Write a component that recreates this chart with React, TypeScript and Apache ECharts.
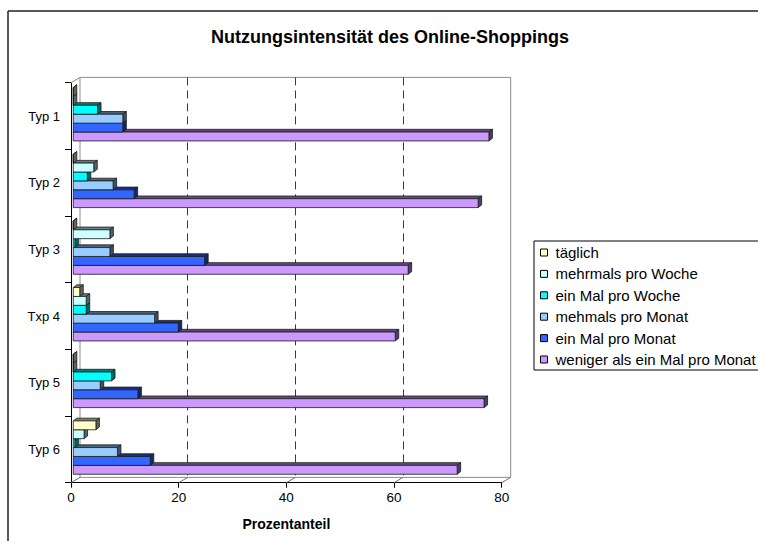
import React, { useEffect, useRef } from "react";
import * as echarts from "echarts";

// ---------- data ----------
const title = "Nutzungsintensität des Online-Shoppings";
const axisName = "Prozentanteil";
const categories = ["Typ 1", "Typ 2", "Typ 3", "Txp 4", "Typ 5", "Typ 6"];
const seriesNames = [
  "täglich",
  "mehrmals pro Woche",
  "ein Mal pro Woche",
  "mehmals pro Monat",
  "ein Mal pro Monat",
  "weniger als ein Mal pro Monat",
];
const taeglich = [0, 0, 0, 1.2, 0, 4.2];
const mehrmalsProWoche = [0, 3.8, 6.8, 2.4, 0, 2.0];
const einMalProWoche = [4.5, 2.6, 0.3, 2.4, 7.1, 0.3];
const mehmalsProMonat = [9.2, 7.4, 6.8, 15.1, 5.0, 8.2];
const einMalProMonat = [9.2, 11.3, 24.4, 19.5, 12.0, 14.3];
const wenigerAlsEinMal = [77.2, 75.2, 62.2, 59.8, 76.3, 71.3];
const seriesValues = [
  taeglich,
  mehrmalsProWoche,
  einMalProWoche,
  mehmalsProMonat,
  einMalProMonat,
  wenigerAlsEinMal,
];
const xTicks = [0, 20, 40, 60, 80];

// ---------- styles ----------
const colors = ["#FFFFCC", "#CCFFFF", "#00FFFF", "#99CCFF", "#3366FF", "#CC99FF"];
const FONT = "'Liberation Sans', Arial, Helvetica, sans-serif";
const FRONT = { left: 71, top: 82.7, width: 430.7, height: 400 };
const DEPTH = { dx: 9, dy: -5.3 };
const BAR = { ox: 2.3, oy: -1.8, ratio: 0.1335, dx: 3.5, dy: -2.7 };
const W = 758;
const H = 541;

function shade(hex: string, f: number): string {
  const n = parseInt(hex.slice(1), 16);
  const r = Math.round(((n >> 16) & 255) * f);
  const g = Math.round(((n >> 8) & 255) * f);
  const b = Math.round((n & 255) * f);
  return `rgb(${r},${g},${b})`;
}

function makeRender(seriesIndex: number, color: string) {
  return (params: any, api: any) => {
    const val = api.value(0);
    const cat = api.value(1);
    const p0 = api.coord([0, cat]);
    const p1 = api.coord([val, cat]);
    const band = api.size([0, 1])[1];
    const h = band * BAR.ratio;
    const n = seriesNames.length;
    const top = p0[1] + BAR.oy - (n / 2) * h + seriesIndex * h;
    const xa = p0[0] + BAR.ox;
    const xb = p1[0] + BAR.ox;
    const { dx, dy } = BAR;
    const stroke = "#1a1a1a";
    return {
      type: "group",
      children: [
        {
          type: "polygon",
          shape: { points: [[xa, top], [xa + dx, top + dy], [xb + dx, top + dy], [xb, top]] },
          style: { fill: shade(color, 0.5), stroke, lineWidth: 0.8 },
        },
        {
          type: "polygon",
          shape: { points: [[xb, top], [xb + dx, top + dy], [xb + dx, top + h + dy], [xb, top + h]] },
          style: { fill: shade(color, 0.4), stroke, lineWidth: 0.8 },
        },
        {
          type: "rect",
          shape: { x: xa, y: top, width: Math.max(0, xb - xa), height: h },
          style: { fill: color, stroke, lineWidth: 0.8 },
        },
      ],
    };
  };
}

export default function App() {
  const ref = useRef<HTMLDivElement>(null);

  useEffect(() => {
    if (!ref.current) return;
    const chart = echarts.init(ref.current, undefined, { renderer: "svg" });
    const frontRight = W - FRONT.left - FRONT.width;
    const frontBottom = H - FRONT.top - FRONT.height;

    const option: any = {
      animation: false,
      backgroundColor: "#ffffff",
      title: {
        text: title,
        left: 390,
        top: 28,
        textAlign: "center",
        padding: 0,
        textStyle: { fontFamily: FONT, fontSize: 18, fontWeight: "bold", color: "#000" },
      },
      legend: {
        orient: "vertical",
        left: 534,
        top: 241,
        padding: [4, 12, 3, 6],
        itemWidth: 7,
        itemHeight: 7,
        itemGap: 6.4,
        icon: "rect",
        borderColor: "#000",
        borderWidth: 1,
        backgroundColor: "#fff",
        itemStyle: { borderColor: "#000", borderWidth: 1 },
        textStyle: {
          fontFamily: FONT,
          fontSize: 15,
          lineHeight: 14,
          color: "#000",
          padding: [0, 0, 0, 3],
        },
        data: seriesNames,
      },
      grid: [
        {
          left: FRONT.left,
          right: frontRight,
          top: FRONT.top,
          bottom: frontBottom,
          show: false,
        },
        {
          left: FRONT.left + DEPTH.dx,
          right: frontRight - DEPTH.dx,
          top: FRONT.top + DEPTH.dy,
          bottom: frontBottom - DEPTH.dy,
          show: true,
          borderColor: "#8c8c8c",
          borderWidth: 1,
          backgroundColor: "transparent",
        },
      ],
      xAxis: [
        {
          type: "value",
          gridIndex: 0,
          min: 0,
          max: 80,
          interval: 20,
          name: axisName,
          nameLocation: "middle",
          nameGap: 34,
          nameTextStyle: { fontFamily: FONT, fontSize: 14, fontWeight: "bold", color: "#000" },
          axisLine: { show: true, lineStyle: { color: "#000", width: 1 } },
          axisTick: { show: true, length: 5, lineStyle: { color: "#000" } },
          axisLabel: { fontFamily: FONT, fontSize: 13.5, color: "#000", margin: 8 },
          splitLine: { show: false },
        },
        {
          type: "value",
          gridIndex: 1,
          min: 0,
          max: 80,
          interval: 20,
          axisLine: { show: false },
          axisTick: { show: false },
          axisLabel: { show: false },
          splitLine: {
            show: true,
            showMinLine: false,
            showMaxLine: false,
            lineStyle: { color: "#3a3a3a", width: 1, type: [8, 5] },
          },
        },
      ],
      yAxis: [
        {
          type: "category",
          gridIndex: 0,
          data: categories,
          inverse: true,
          axisLine: { show: true, lineStyle: { color: "#000", width: 1 } },
          axisTick: { show: true, length: 6, lineStyle: { color: "#000" } },
          axisLabel: { fontFamily: FONT, fontSize: 13, color: "#000", margin: 11 },
          splitLine: { show: false },
        },
        {
          type: "value",
          gridIndex: 1,
          min: 0,
          max: 1,
          show: false,
        },
      ],
      series: seriesNames.map((name, i) => ({
        name,
        type: "custom",
        xAxisIndex: 0,
        yAxisIndex: 0,
        z: 10 - i,
        clip: false,
        itemStyle: { color: colors[i], borderColor: "#000", borderWidth: 1 },
        encode: { x: 0, y: 1 },
        data: seriesValues[i].map((v, c) => [v, c]),
        renderItem: makeRender(i, colors[i]),
      })),
    };
    chart.setOption(option);

    const fy = FRONT.top + FRONT.height;
    const floorLines = xTicks.map((v) => {
      const fx = chart.convertToPixel({ xAxisIndex: 0 }, v) as number;
      const bx = chart.convertToPixel({ xAxisIndex: 1 }, v) as number;
      return {
        type: "line",
        z: 1,
        shape: { x1: fx, y1: fy, x2: bx, y2: fy + DEPTH.dy },
        style: { stroke: "#6e6e6e", lineWidth: 1 },
      };
    });
    chart.setOption({
      graphic: [
        {
          type: "line",
          z: 0,
          shape: { x1: 8, y1: 11, x2: W + 20, y2: 11 },
          style: { stroke: "#222", lineWidth: 1.5 },
        },
        {
          type: "line",
          z: 0,
          shape: { x1: 8, y1: 11, x2: 8, y2: H + 20 },
          style: { stroke: "#222", lineWidth: 1.5 },
        },
        {
          type: "line",
          z: 1,
          shape: {
            x1: FRONT.left,
            y1: FRONT.top,
            x2: FRONT.left + DEPTH.dx,
            y2: FRONT.top + DEPTH.dy,
          },
          style: { stroke: "#8c8c8c", lineWidth: 1 },
        },
        ...floorLines,
      ],
    });

    return () => chart.dispose();
  }, []);

  return (
    <div
      ref={ref}
      style={{ position: "fixed", left: 0, top: 0, width: W, height: H, background: "#fff" }}
    />
  );
}
